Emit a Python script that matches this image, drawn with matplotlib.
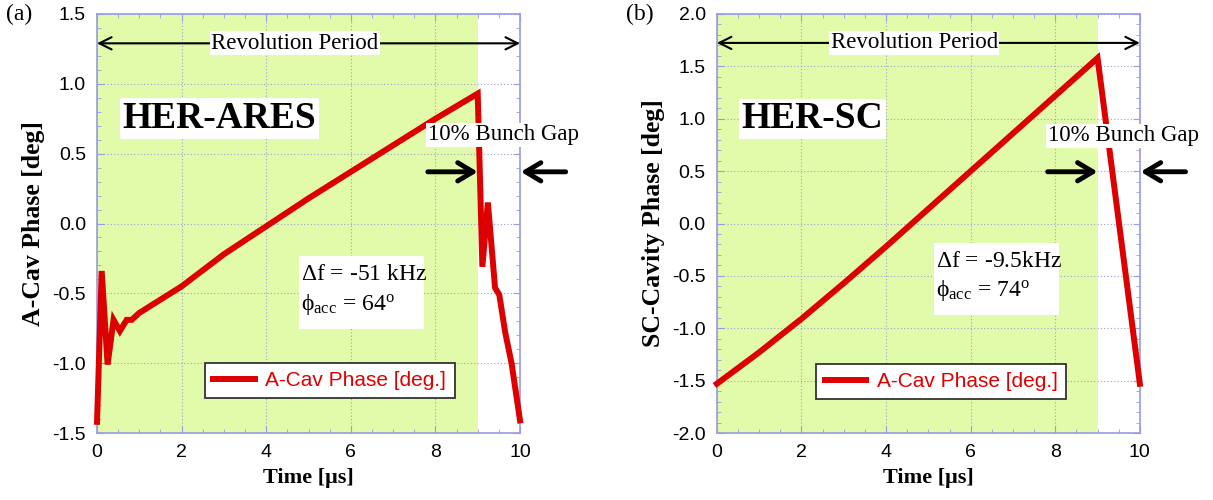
import matplotlib
matplotlib.use("Agg")
import matplotlib.pyplot as plt
from matplotlib.ticker import MultipleLocator

plt.rcParams['mathtext.fontset'] = 'custom'
plt.rcParams['mathtext.rm'] = 'Liberation Serif'
plt.rcParams['mathtext.it'] = 'Liberation Serif:italic'
plt.rcParams['mathtext.bf'] = 'Liberation Serif:bold'

# ---------------- data ----------------
t_ares = [0, 0.11, 0.25, 0.39, 0.54, 0.70, 0.82, 1.0, 2, 3, 4, 5, 6, 7, 8, 9.0,
          9.11, 9.24, 9.41, 9.51, 9.65, 9.80, 10.0]
phase_ares = [-1.42, -0.34, -1.01, -0.69, -0.77, -0.69, -0.69, -0.64, -0.45, -0.22,
              -0.02, 0.18, 0.37, 0.56, 0.75, 0.93, -0.31, 0.15, -0.46, -0.51,
              -0.78, -1.0, -1.41]

t_sc = [0, 1, 2, 3, 4, 5, 6, 7, 8, 9, 10]
phase_sc = [-1.53, -1.23, -0.91, -0.57, -0.22, 0.14, 0.50, 0.86, 1.22, 1.58, -1.53]

legend_label = "A-Cav Phase [deg.]"
x_ticks = [0, 2, 4, 6, 8, 10]
bunch_end = 9.0

panels = [
    dict(t=t_ares, y=phase_ares, ylim=(-1.5, 1.5), yticks=[-1.5, -1.0, -0.5, 0.0, 0.5, 1.0, 1.5],
         ylabel="A-Cav Phase [deg]", tag="(a)", name="HER-ARES",
         df=r"$\Delta$f = -51 kHz", phi="ϕ$_{\mathrm{acc}}$ = 64$^{\mathrm{o}}$",
         rev_y=1.29, gap_text_y=0.636, gap_arrow_y=0.37, name_xy=(0.6, 0.752),
         box=(4.77, -0.755, 2.97, 0.52), df_y=-0.363, phi_y=-0.58,
         leg_anchor=(0.255, 0.083), left=0.080),
    dict(t=t_sc, y=phase_sc, ylim=(-2.0, 2.0), yticks=[-2.0, -1.5, -1.0, -0.5, 0.0, 0.5, 1.0, 1.5, 2.0],
         ylabel="SC-Cavity Phase [deg]", tag="(b)", name="HER-SC",
         df=r"$\Delta$f = -9.5kHz", phi="ϕ$_{\mathrm{acc}}$ = 74$^{\mathrm{o}}$",
         rev_y=1.724, gap_text_y=0.837, gap_arrow_y=0.494, name_xy=(0.58, 1.0),
         box=(5.13, -0.87, 2.97, 0.68), df_y=-0.36, phi_y=-0.64,
         leg_anchor=(0.235, 0.08), left=0.591),
]

fig = plt.figure(figsize=(12.13, 5.0), dpi=100)
serif = ['Liberation Serif', 'DejaVu Serif']
sans = 'Liberation Sans'
red = '#dd0000'
spine_c = '#9a9ae6'
green = '#e2fbab'

for p in panels:
    ax = fig.add_axes([p['left'], 0.134, 0.3487, 0.838])
    ax.set_xlim(0, 10)
    ax.set_ylim(*p['ylim'])
    ax.axvspan(0, bunch_end, color=green, zorder=0, lw=0)
    ax.set_xticks(x_ticks)
    ax.set_yticks(p['yticks'])
    ax.set_yticklabels([f"{v:.1f}" for v in p['yticks']])
    ax.xaxis.set_minor_locator(MultipleLocator(0.5))
    ax.yaxis.set_minor_locator(MultipleLocator(0.1))
    ax.tick_params(which='both', direction='in', top=True, right=True, color=spine_c)
    ax.tick_params(which='major', length=5, labelsize=14, pad=8)
    ax.tick_params(which='minor', length=3)
    for lab in ax.get_xticklabels() + ax.get_yticklabels():
        lab.set_fontfamily(sans)
    for s in ax.spines.values():
        s.set_color(spine_c)
        s.set_linewidth(1.2)
    ax.grid(True, which='major', color='#9aa0d8', linestyle=(0, (1, 2)), linewidth=0.8, zorder=1)
    ax.set_axisbelow(True)

    line, = ax.plot(p['t'], p['y'], color=red, lw=4.3, zorder=5, label=legend_label,
                    solid_joinstyle='miter', clip_on=False)

    ax.set_xlabel("Time [μs]", fontfamily=serif, fontweight='bold', fontsize=16, labelpad=5)
    ax.set_ylabel(p['ylabel'], fontfamily=serif, fontweight='bold', fontsize=18.5, labelpad=5)

    # panel tag
    fig.text(p['left'] - 0.075, 0.972, p['tag'], fontfamily=serif, fontsize=17,
             va='center', ha='left')

    # revolution period arrow
    ax.annotate("", xy=(0, p['rev_y']), xytext=(10, p['rev_y']),
                arrowprops=dict(arrowstyle='<->', lw=1.5, color='black',
                                mutation_scale=22, shrinkA=0, shrinkB=0),
                annotation_clip=False, zorder=6)
    ax.text(4.67, p['rev_y'], "Revolution Period", fontfamily=serif, fontsize=16.5,
            ha='center', va='center', zorder=7,
            bbox=dict(facecolor='white', edgecolor='none', pad=1.0))

    # name label
    ax.text(p['name_xy'][0], p['name_xy'][1], p['name'], fontfamily=serif,
            fontweight='bold', fontsize=27, ha='left', va='center', zorder=7,
            bbox=dict(facecolor='white', edgecolor='none', pad=2.0))

    # bunch gap
    ax.text(7.82, p['gap_text_y'], "10% Bunch Gap", fontfamily=serif, fontsize=16.5,
            ha='left', va='center', zorder=7, clip_on=False,
            bbox=dict(facecolor='white', edgecolor='none', pad=1.0))
    ax.annotate("", xy=(9.0, p['gap_arrow_y']), xytext=(7.82, p['gap_arrow_y']),
                arrowprops=dict(arrowstyle='->,head_length=0.5,head_width=0.3', lw=3.5,
                                color='black', mutation_scale=22, shrinkA=0, shrinkB=0),
                annotation_clip=False, zorder=8)
    ax.annotate("", xy=(10.02, p['gap_arrow_y']), xytext=(11.08, p['gap_arrow_y']),
                arrowprops=dict(arrowstyle='->,head_length=0.5,head_width=0.3', lw=3.5,
                                color='black', mutation_scale=22, shrinkA=0, shrinkB=0),
                annotation_clip=False, zorder=8)

    # delta f box
    bx, by, bw, bh = p['box']
    ax.add_patch(plt.Rectangle((bx, by), bw, bh, facecolor='white', edgecolor='none', zorder=4))
    ax.text(bx + 0.05, p['df_y'], p['df'], fontfamily=serif, fontsize=17,
            ha='left', va='center', zorder=7)
    ax.text(bx + 0.05, p['phi_y'], p['phi'], fontfamily=serif, fontsize=17,
            ha='left', va='center', zorder=7)

    leg = ax.legend(handles=[line], loc='lower left', bbox_to_anchor=p['leg_anchor'],
                    borderaxespad=0, fancybox=False, framealpha=1, edgecolor='#333333',
                    prop=dict(family=sans, size=15), handlelength=2.0, handletextpad=0.5,
                    borderpad=0.4)
    leg.get_frame().set_linewidth(1.3)
    leg.set_zorder(9)
    for txt in leg.get_texts():
        txt.set_color(red)

fig.savefig("out.png", dpi=100)
